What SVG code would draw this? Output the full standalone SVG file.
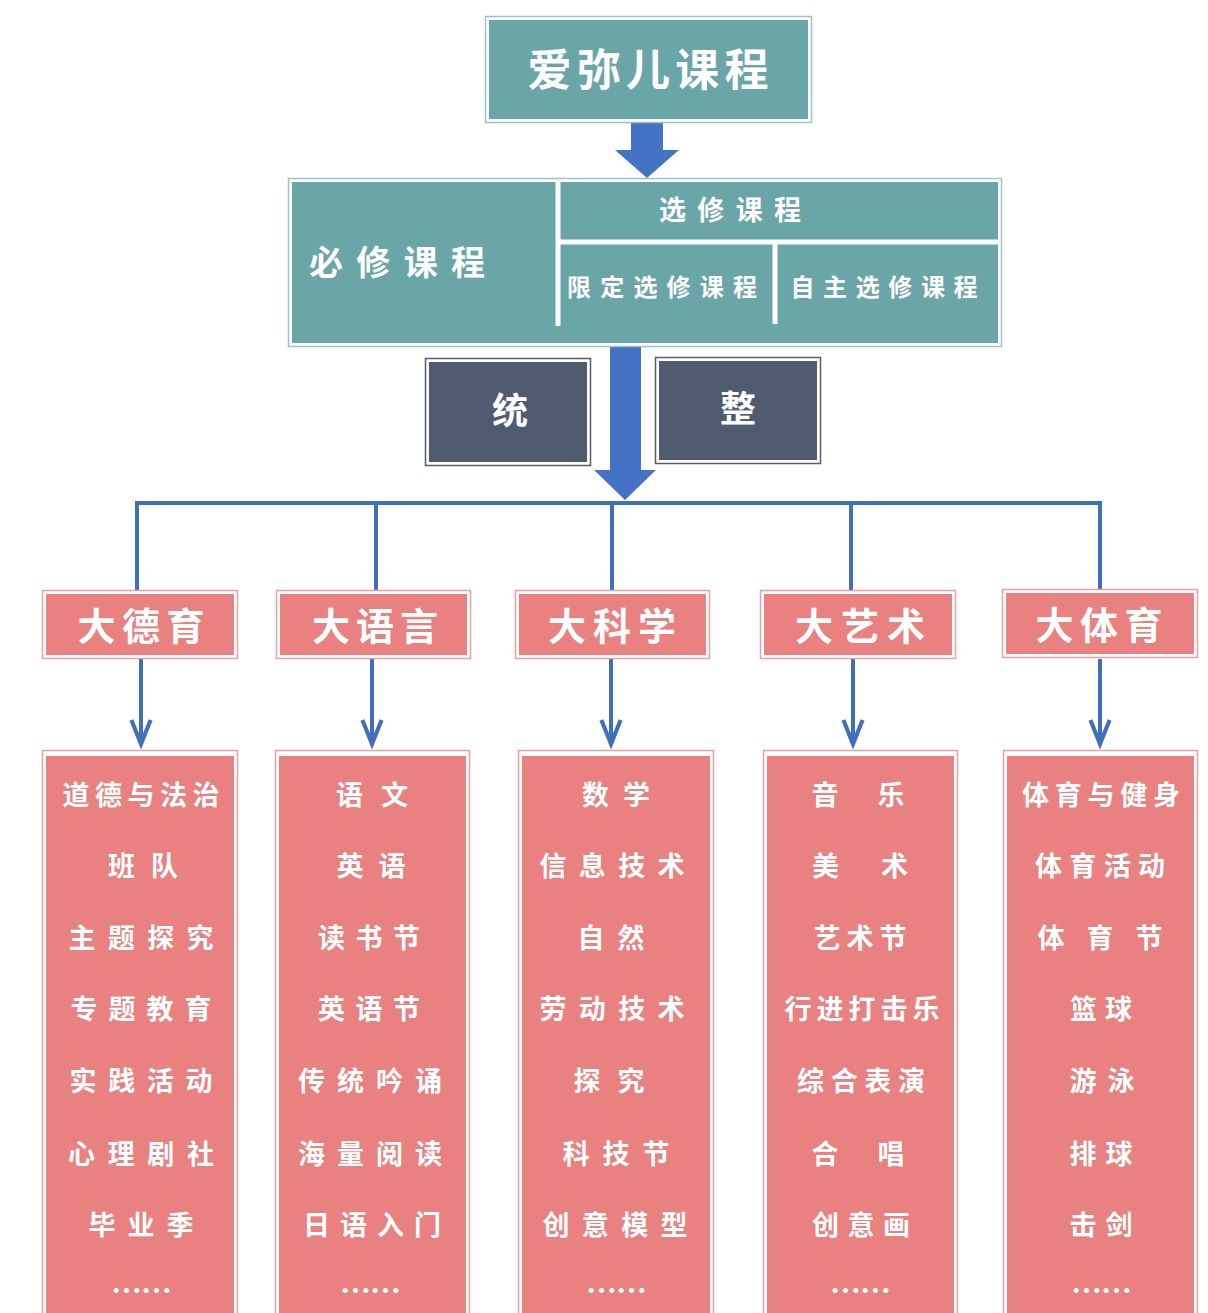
<svg xmlns="http://www.w3.org/2000/svg" width="1208" height="1313" viewBox="0 0 1208 1313">
<defs>
<style>
.t{font-family:"Noto Sans CJK SC","Noto Sans CJK TC",sans-serif;font-weight:700;fill:#ffffff;text-anchor:middle}
.teal{fill:#6aa5a8}
.frameT{fill:#ffffff;stroke:#9cc3c5;stroke-width:1.5}
.frameS{fill:#ffffff;stroke:#e8a0a0;stroke-width:1.5}
.frameD{fill:#ffffff;stroke:#555e6c;stroke-width:1.5}
.sal{fill:#e8817f}
.dark{fill:#4f5b6e}
.blue{stroke:#3f70b8;stroke-width:4;fill:none}
.sep{stroke:#ffffff;stroke-width:5}
.c{font-size:38px}
.l{font-size:27px}
.d{font-size:31px;letter-spacing:-1px}
</style>
<marker id="chev" viewBox="0 0 20 14" refX="17" refY="7" markerWidth="8" markerHeight="6" markerUnits="strokeWidth" orient="auto">
<path d="M2,1 L17,7 L2,13" fill="none" stroke="#3f70b8" stroke-width="2.6" stroke-linejoin="miter"/>
</marker>
</defs>
<rect width="1208" height="1313" fill="#ffffff"/>

<g id="connectors">
<polygon points="631,123 663,123 663,150 679,150 647,178 615,150 631,150" fill="#4472c4"/>
<polygon points="610,347 641,347 641,470 656,470 625,500 594,470 610,470" fill="#4472c4"/>
<path class="blue" d="M137,590 V503 H1100 V590"/>
<path class="blue" d="M376,503 V590 M612,503 V590 M851,503 V590"/>
<line class="blue" x1="141" y1="659" x2="141" y2="744" marker-end="url(#chev)"/>
<line class="blue" x1="372" y1="659" x2="372" y2="744" marker-end="url(#chev)"/>
<line class="blue" x1="611" y1="659" x2="611" y2="744" marker-end="url(#chev)"/>
<line class="blue" x1="853" y1="659" x2="853" y2="744" marker-end="url(#chev)"/>
<line class="blue" x1="1100" y1="659" x2="1100" y2="744" marker-end="url(#chev)"/>
</g>

<g id="root">
<rect class="frameT" x="485.5" y="16.5" width="326" height="106"/>
<rect class="teal" x="489" y="20" width="319" height="99"/>
<text class="t" x="648" y="86" font-size="44" textLength="241" lengthAdjust="spacing">爱弥儿课程</text>
</g>

<g id="courses">
<rect class="frameT" x="288.5" y="178.5" width="713" height="168"/>
<rect class="teal" x="292" y="182" width="706" height="161"/>
<line class="sep" x1="558" y1="182" x2="558" y2="326"/>
<line class="sep" x1="558" y1="242" x2="998" y2="242"/>
<line class="sep" x1="775" y1="242" x2="775" y2="324"/>
<text class="t" x="397" y="275" font-size="34" textLength="176" lengthAdjust="spacing">必修课程</text>
<text class="t" x="730" y="220" font-size="27" textLength="142" lengthAdjust="spacing">选修课程</text>
<text class="t" x="662" y="296" font-size="24" textLength="190" lengthAdjust="spacing">限定选修课程</text>
<text class="t" x="884" y="296" font-size="24" textLength="187" lengthAdjust="spacing">自主选修课程</text>
</g>

<g id="tong">
<rect class="frameD" x="425.5" y="358.5" width="165" height="107"/>
<rect class="dark" x="429" y="362" width="158" height="100"/>
<text class="t" x="510" y="424" font-size="36">统</text>
</g>
<g id="zheng">
<rect class="frameD" x="655.5" y="357.5" width="165" height="106"/>
<rect class="dark" x="659" y="361" width="158" height="99"/>
<text class="t" x="738" y="422" font-size="36">整</text>
</g>

<g id="cat-deyu">
<rect class="frameS" x="42.5" y="590.5" width="195" height="68"/>
<rect class="sal" x="46" y="594" width="188" height="61"/>
<text class="t c" x="141" y="640" textLength="127" lengthAdjust="spacing">大德育</text>
</g>
<g id="cat-yuyan">
<rect class="frameS" x="276.5" y="590.5" width="194" height="68"/>
<rect class="sal" x="280" y="594" width="187" height="61"/>
<text class="t c" x="375" y="640" textLength="126" lengthAdjust="spacing">大语言</text>
</g>
<g id="cat-kexue">
<rect class="frameS" x="515.5" y="590.5" width="194" height="68"/>
<rect class="sal" x="519" y="594" width="187" height="61"/>
<text class="t c" x="612" y="640" textLength="128" lengthAdjust="spacing">大科学</text>
</g>
<g id="cat-yishu">
<rect class="frameS" x="760.5" y="590.5" width="195" height="68"/>
<rect class="sal" x="764" y="594" width="188" height="61"/>
<text class="t c" x="860" y="640" textLength="130" lengthAdjust="spacing">大艺术</text>
</g>
<g id="cat-tiyu">
<rect class="frameS" x="1002.5" y="589.5" width="195" height="68"/>
<rect class="sal" x="1006" y="593" width="188" height="61"/>
<text class="t c" x="1099" y="639" textLength="127" lengthAdjust="spacing">大体育</text>
</g>

<g id="list-deyu">
<rect class="frameS" x="42.5" y="750.5" width="195" height="580"/>
<rect class="sal" x="46" y="756" width="188" height="570"/>
<text class="t l" x="141" y="805" textLength="157" lengthAdjust="spacing">道德与法治</text>
<text class="t l" x="143" y="876" textLength="70" lengthAdjust="spacing">班队</text>
<text class="t l" x="141" y="948" textLength="145" lengthAdjust="spacing">主题探究</text>
<text class="t l" x="141" y="1019" textLength="141" lengthAdjust="spacing">专题教育</text>
<text class="t l" x="141" y="1091" textLength="143" lengthAdjust="spacing">实践活动</text>
<text class="t l" x="141" y="1164" textLength="146" lengthAdjust="spacing">心理剧社</text>
<text class="t l" x="141" y="1235" textLength="105" lengthAdjust="spacing">毕业季</text>
<text class="t d" x="141" y="1302">……</text>
</g>
<g id="list-yuyan">
<rect class="frameS" x="275.5" y="750.5" width="194" height="580"/>
<rect class="sal" x="279" y="756" width="187" height="570"/>
<text class="t l" x="372" y="805" textLength="72" lengthAdjust="spacing">语文</text>
<text class="t l" x="371" y="876" textLength="69" lengthAdjust="spacing">英语</text>
<text class="t l" x="369" y="948" textLength="102" lengthAdjust="spacing">读书节</text>
<text class="t l" x="369" y="1019" textLength="102" lengthAdjust="spacing">英语节</text>
<text class="t l" x="370" y="1091" textLength="144" lengthAdjust="spacing">传统吟诵</text>
<text class="t l" x="370" y="1164" textLength="144" lengthAdjust="spacing">海量阅读</text>
<text class="t l" x="372" y="1235" textLength="138" lengthAdjust="spacing">日语入门</text>
<text class="t d" x="370" y="1302">……</text>
</g>
<g id="list-kexue">
<rect class="frameS" x="518.5" y="750.5" width="195" height="580"/>
<rect class="sal" x="522" y="756" width="188" height="570"/>
<text class="t l" x="616" y="805" textLength="68" lengthAdjust="spacing">数学</text>
<text class="t l" x="612" y="876" textLength="145" lengthAdjust="spacing">信息技术</text>
<text class="t l" x="611" y="948" textLength="67" lengthAdjust="spacing">自然</text>
<text class="t l" x="612" y="1019" textLength="145" lengthAdjust="spacing">劳动技术</text>
<text class="t l" x="609" y="1091" textLength="71" lengthAdjust="spacing">探究</text>
<text class="t l" x="616" y="1164" textLength="107" lengthAdjust="spacing">科技节</text>
<text class="t l" x="615" y="1235" textLength="145" lengthAdjust="spacing">创意模型</text>
<text class="t d" x="616" y="1302">……</text>
</g>
<g id="list-yishu">
<rect class="frameS" x="763.5" y="750.5" width="194" height="580"/>
<rect class="sal" x="767" y="756" width="187" height="570"/>
<text class="t l" x="858" y="805" textLength="93" lengthAdjust="spacing">音　乐</text>
<text class="t l" x="860" y="876" textLength="96" lengthAdjust="spacing">美　术</text>
<text class="t l" x="860" y="948" textLength="93" lengthAdjust="spacing">艺术节</text>
<text class="t l" x="862" y="1019" textLength="155" lengthAdjust="spacing">行进打击乐</text>
<text class="t l" x="861" y="1091" textLength="128" lengthAdjust="spacing">综合表演</text>
<text class="t l" x="858" y="1164" textLength="93" lengthAdjust="spacing">合　唱</text>
<text class="t l" x="861" y="1235" textLength="98" lengthAdjust="spacing">创意画</text>
<text class="t d" x="860" y="1302">……</text>
</g>
<g id="list-tiyu">
<rect class="frameS" x="1003.5" y="750.5" width="194" height="580"/>
<rect class="sal" x="1007" y="756" width="187" height="570"/>
<text class="t l" x="1101" y="805" textLength="158" lengthAdjust="spacing">体育与健身</text>
<text class="t l" x="1100" y="876" textLength="130" lengthAdjust="spacing">体育活动</text>
<text class="t l" x="1100" y="948" textLength="125" lengthAdjust="spacing">体　育　节</text>
<text class="t l" x="1101" y="1019" textLength="62" lengthAdjust="spacing">篮球</text>
<text class="t l" x="1102" y="1091" textLength="65" lengthAdjust="spacing">游泳</text>
<text class="t l" x="1101" y="1164" textLength="63" lengthAdjust="spacing">排球</text>
<text class="t l" x="1101" y="1235" textLength="63" lengthAdjust="spacing">击剑</text>
<text class="t d" x="1101" y="1302">……</text>
</g>
</svg>
